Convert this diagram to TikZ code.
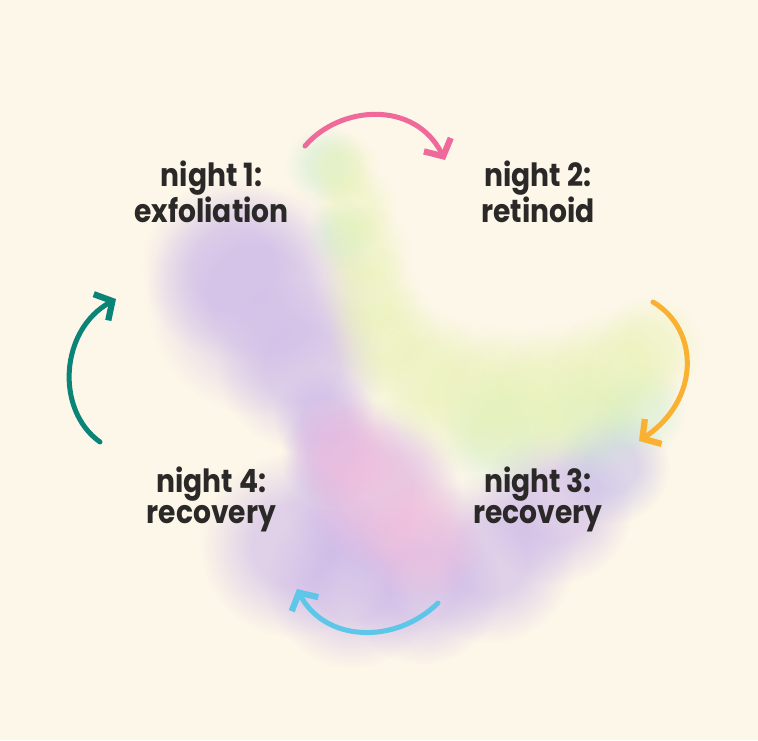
\documentclass[tikz,border=0pt]{standalone}
\usepackage{fontspec}
\newfontfamily\labelfont{Poppins}[FakeStretch=0.88]
\usetikzlibrary{arrows.meta,fadings}
\definecolor{bg}{HTML}{FDF7E9}
\definecolor{lav}{HTML}{C9B3E8}
\definecolor{lavb}{HTML}{C4BCE8}
\definecolor{pinkb}{HTML}{F4BEDC}
\definecolor{yg}{HTML}{E6F2AF}
\definecolor{mint}{HTML}{C8EBD0}
\definecolor{txt}{HTML}{2B2828}
\definecolor{apink}{HTML}{EF6A9A}
\definecolor{aorange}{HTML}{FAB131}
\definecolor{ablue}{HTML}{5EC6E8}
\definecolor{ateal}{HTML}{0B8478}
\pgfdeclareradialshading{fzshade}{\pgfpointorigin}{color(0bp)=(white); color(11bp)=(white); color(18bp)=(gray); color(25bp)=(black); color(50bp)=(black)}
\pgfdeclarefading{fz}{\pgfuseshading{fzshade}}
\tikzset{
  blob/.style={fill=#1, path fading=fz, draw=none},
  label/.style={font=\labelfont\bfseries\fontsize{32}{31}\selectfont, text=txt, align=center, inner sep=0pt},
  cyc/.style={draw=#1, line width=5pt, line cap=round, line join=round,
    -{Straight Barb[length=13pt,width=30pt,line width=0pt 1.25]}}
}
\begin{document}
\begin{tikzpicture}[x=1pt,y=-1pt]
\fill[bg] (0,0) rectangle (758,740);
\useasboundingbox (0,0) rectangle (758,740);
% upper purple lobe
\begin{scope}[fill opacity=0.5]
\fill[blob=lav] (232,268) circle (90);
\fill[blob=lav] (262,300) circle (115);
\fill[blob=lav] (302,365) circle (85);
\fill[blob=lav] (324,418) circle (50);
\end{scope}
% lower purple body
\begin{scope}[fill opacity=0.55]
\foreach \x/\y/\r in {292/545/92, 352/582/86, 422/585/80, 490/558/85, 555/506/78, 372/490/90, 332/455/52}
  \fill[blob=lav] (\x,\y) circle (\r);
\fill[blob=lavb] (612,466) circle (58);
\end{scope}
% pink core
\begin{scope}[fill opacity=0.5]
\fill[blob=pinkb] (345,450) circle (58);
\fill[blob=pinkb] (382,495) circle (75);
\fill[blob=pinkb] (422,540) circle (63);
\end{scope}
% mint fringe
\begin{scope}[fill opacity=0.45]
\fill[blob=mint] (325,165) circle (40);
\fill[blob=mint] (342,235) circle (36);
\fill[blob=mint] (500,432) circle (62);
\fill[blob=mint] (590,420) circle (57);
\fill[blob=mint] (640,410) circle (46);
\end{scope}
% yellow-green band
\begin{scope}[fill opacity=0.42]
\foreach \x/\y/\r in {342/168/36, 355/208/42, 364/252/46, 370/296/50, 384/336/56,
  420/372/66, 468/396/76, 520/402/76, 570/392/71, 615/372/64, 650/348/53}
  \fill[blob=yg] (\x,\y) circle (\r);
\end{scope}
% labels
\node[label] (n1) at (211.5,192) {night 1:\\exfoliation};
\node[label] (n2) at (538,192) {night 2:\\retinoid};
\node[label] (n3) at (538,499) {night 3:\\recovery};
\node[label] (n4) at (211.5,499) {night 4:\\recovery};
% arrow end points
\coordinate (p1s) at (305,146);
\coordinate (p1e) at (445,160);
\coordinate (p2s) at (653,302);
\coordinate (p2e) at (639,441);
\coordinate (p3s) at (438,603);
\coordinate (p3e) at (297,589);
\coordinate (p4s) at (100,442);
\coordinate (p4e) at (116,299);
\draw[cyc=apink] (p1s) .. controls (340,105) and (415,100) .. (p1e);
\draw[cyc=aorange] (p2s) .. controls (700,330) and (700,400) .. (p2e);
\draw[cyc=ablue] (p3s) .. controls (395,645) and (325,642) .. (p3e);
\draw[cyc=ateal] (p4s) .. controls (55,410) and (60,330) .. (p4e);
\end{tikzpicture}
\end{document}
